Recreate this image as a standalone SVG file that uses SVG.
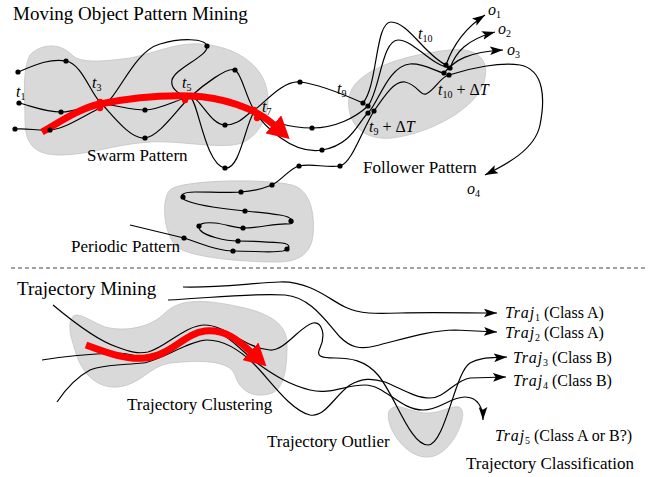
<svg xmlns="http://www.w3.org/2000/svg" width="657" height="477" viewBox="0 0 657 477">
<style>
.blob{fill:#d9d9d9;stroke:#c4c4c4;stroke-width:0.8}
.ln{fill:none;stroke:#000;stroke-width:1.2}
.red{fill:none;stroke:#ff0000;stroke-width:7}
.lbl{font-family:"Liberation Serif",serif;font-size:17px;fill:#000}
.ttl{font-family:"Liberation Serif",serif;font-size:19px;fill:#000}
.m{font-family:"Liberation Serif",serif;font-style:italic;font-size:16px;fill:#000}
.tr{font-family:"Liberation Serif",serif;font-size:16px;fill:#000}
.it{font-style:italic;letter-spacing:0.8px}
.sb{font-size:10px;font-style:normal;letter-spacing:0}
.dot{fill:#000}
.rdot{fill:#ff0000}
</style>
<defs>
<marker id="ah" markerUnits="userSpaceOnUse" markerWidth="13" markerHeight="9" refX="12" refY="4" orient="auto" viewBox="0 0 12 8"><path d="M0,0 L12,4 L0,8 L2.5,4 Z" fill="#000"/></marker>
<marker id="rh" markerUnits="userSpaceOnUse" markerWidth="22" markerHeight="24" refX="1" refY="12" orient="auto" viewBox="0 0 22 24"><path d="M0,0 L22,12 L0,24 Z" fill="#ff0000"/></marker>
</defs>
<rect width="657" height="477" fill="#fff"/>

<g id="swarm-region">
<path class="blob" d="M30,55 C40,44 60,42 72,55 C80,63 100,62 130,58 C160,52 180,40 210,45 C240,50 262,66 267,90 C272,115 258,136 242,143 C220,150 180,140 150,142 C115,144 90,155 60,155 C35,155 25,145 25,120 C25,95 22,70 30,55 Z"/>
<text class="lbl" x="87" y="161">Swarm Pattern</text>
</g>
<g id="follower-region">
<path class="blob" d="M349,98 C352,72 400,55 450,50 C480,47 490,62 484,82 C476,108 432,133 392,138 C362,141 346,122 349,98 Z"/>
<text class="lbl" x="363" y="173">Follower Pattern</text>
</g>
<g id="periodic-region">
<path class="blob" d="M170,190 C180,180 262,178 292,185 C311,190 315,215 313,235 C311,255 297,262 277,262 C250,262 200,259 180,249 C164,240 160,200 170,190 Z"/>
<text class="lbl" x="71" y="252">Periodic Pattern</text>
</g>
<g id="cluster-region">
<path class="blob" d="M72,318 C76,310 88,320 105,327 C125,332 150,328 165,313 C178,300 200,298 240,307 C270,313 288,325 287,345 C287,365 285,388 272,393 C255,399 240,392 235,375 C230,360 200,360 170,363 C150,366 140,385 118,387 C95,389 80,370 75,350 C70,335 68,325 72,318 Z"/>
<text class="lbl" x="127" y="410">Trajectory Clustering</text>
</g>
<g id="outlier-region">
<path class="blob" d="M392,408 C398,403 410,412 425,413 C440,414 452,405 459,407 C466,410 462,425 455,437 C447,450 437,458 425,457 C410,456 395,440 390,425 C387,415 388,410 392,408 Z"/>
<text class="lbl" x="267" y="447">Trajectory Outlier</text>
</g>

<g id="titles">
<text class="ttl" x="13" y="20">Moving Object Pattern Mining</text>
<text class="ttl" x="17" y="295">Trajectory Mining</text>
<text class="lbl" x="466" y="469">Trajectory Classification</text>
</g>

<line x1="11" y1="268" x2="646" y2="268" stroke="#444" stroke-width="1" stroke-dasharray="4,3"/>

<g id="connectors">
<path class="ln" marker-end="url(#ah)" d="M18,72 C35,65 50,58 66,61 S90,92 100,102 S130,140 145,138 S178,108 190,97 S228,66 235,70 S245,95 254,110 S292,155 322,150 S358,122 368,113 C378,104 388,66 410,64 C425,63 436,72 444,73 C455,60 468,52 503,50"/>
<path class="ln" marker-end="url(#ah)" d="M19,103 C32,106 45,112 61,112 S88,104 100,104 S130,110 145,110 S180,98 190,97 S210,125 225,125 S245,115 254,110 S282,80 300,82 S345,95 363,103 C378,85 375,22 391,22 C408,22 425,55 446,65 C452,48 462,30 485,15"/>
<path class="ln" marker-end="url(#ah)" d="M15,129 C28,128 38,131 50,130 C65,129 85,115 100,108 C118,100 132,52 160,44 C180,38 205,38 207,46 C209,56 175,68 172,80 C170,90 182,96 190,97 C198,100 205,165 225,168 C240,170 245,125 254,112 C262,120 290,128 312,128 C335,128 355,118 368,106 C380,90 382,40 398,40 C414,40 430,65 450,68 C456,52 466,40 495,32"/>
<path class="ln" marker-end="url(#ah)" d="M130,225 L184,238 C198,242 215,251 233,251 C255,251 272,253 283,251 C291,249 291,244 282,243 C268,242 250,241 238,241 C225,241 205,236 200,230 C196,224 203,222 215,223 C225,224 235,228 243,228 C258,228 278,223 288,224 C297,224 293,217 280,215 C268,213 256,212 245,211 C225,209 195,205 185,200 C178,196 182,192 195,192 C210,192 228,193 241,192 C255,191 262,189 272,185 C282,180 290,168 299,166 C312,163 325,168 340,166 C352,163 362,130 374,111 C385,95 395,80 405,82 C418,85 420,96 426,94 C435,90 440,77 449,75 C470,68 500,62 520,65 C545,70 545,100 540,125 C535,150 505,165 485,175"/>

<path class="ln" marker-end="url(#ah)" d="M183,287 C220,288 250,283 280,282 C310,281 330,300 345,307 C360,314 375,314 400,313 C430,312 470,313 497,313"/>
<path class="ln" marker-end="url(#ah)" d="M168,300 C210,298 250,293 285,295 C310,297 325,320 340,337 C350,347 360,350 375,346 C400,340 430,330 455,330 L497,332"/>
<path class="ln" marker-end="url(#ah)" d="M53,305 C65,315 95,340 117,347 C130,352 138,354 148,352 C165,348 185,325 205,325 C225,325 245,348 270,350 C285,351 300,326 313,323 C322,321 326,335 320,348 C316,356 320,358 335,358 C350,358 365,360 378,375 C395,395 410,445 428,445 C445,445 455,372 470,363 C480,357 492,358 507,357"/>
<path class="ln" marker-end="url(#ah)" d="M42,360 C60,357 90,354 117,353 C130,353 138,358 148,357 C165,355 190,330 207,330 C225,330 240,350 257,363 C275,376 290,385 310,390 C330,395 345,385 365,385 C385,385 400,410 423,410 C440,410 450,397 465,397 C478,397 483,408 483,420"/>
<path class="ln" marker-end="url(#ah)" d="M57,402 C65,390 75,378 90,370 C105,364 125,365 143,363 C160,361 190,340 207,340 C225,340 240,350 255,365 C270,380 290,410 310,415 C325,418 335,395 350,385 C362,378 372,378 385,382 C400,388 415,398 430,398 C445,398 455,380 470,378 L506,377"/>

<path class="red" marker-end="url(#rh)" d="M42,132 C60,122 80,108 100,104 C130,98 160,95 190,96 C222,97 255,108 274,125"/>
<path class="red" marker-end="url(#rh)" d="M86,345 C105,352 125,360 145,358 C170,356 185,333 205,331 C225,329 238,340 251,352"/>
</g>

<g id="dots">
<circle class="dot" cx="18" cy="72" r="2.6"/><circle class="dot" cx="66" cy="61" r="2.6"/>
<circle class="dot" cx="19" cy="103" r="2.6"/><circle class="dot" cx="61" cy="112" r="2.6"/>
<circle class="dot" cx="15" cy="129" r="2.6"/><circle class="dot" cx="50" cy="130" r="2.6"/>
<circle class="dot" cx="145" cy="110" r="2.6"/><circle class="dot" cx="145" cy="138" r="2.6"/>
<circle class="dot" cx="207" cy="46" r="2.6"/><circle class="dot" cx="235" cy="70" r="2.6"/>
<circle class="dot" cx="225" cy="125" r="2.6"/><circle class="dot" cx="225" cy="168" r="2.6"/>
<circle class="dot" cx="300" cy="82" r="2.6"/><circle class="dot" cx="312" cy="128" r="2.6"/>
<circle class="dot" cx="322" cy="150" r="2.6"/>
<circle class="dot" cx="184" cy="238" r="2.6"/><circle class="dot" cx="233" cy="251" r="2.6"/>
<circle class="dot" cx="287" cy="249" r="2.6"/><circle class="dot" cx="238" cy="241" r="2.6"/>
<circle class="dot" cx="199" cy="226" r="2.6"/><circle class="dot" cx="243" cy="228" r="2.6"/>
<circle class="dot" cx="291" cy="221" r="2.6"/><circle class="dot" cx="245" cy="211" r="2.6"/>
<circle class="dot" cx="183" cy="197" r="2.6"/><circle class="dot" cx="241" cy="192" r="2.6"/>
<circle class="dot" cx="272" cy="185" r="2.6"/><circle class="dot" cx="299" cy="166" r="2.6"/>
<circle class="dot" cx="340" cy="166" r="2.6"/>
<circle class="dot" cx="363" cy="103" r="2.6"/><circle class="dot" cx="368" cy="106" r="2.6"/>
<circle class="dot" cx="368" cy="113" r="2.6"/><circle class="dot" cx="374" cy="111" r="2.6"/>
<circle class="dot" cx="446" cy="65" r="2.6"/><circle class="dot" cx="450" cy="68" r="2.6"/>
<circle class="dot" cx="444" cy="73" r="2.6"/><circle class="dot" cx="449" cy="75" r="2.6"/>
<circle class="rdot" cx="100" cy="102" r="3.2"/><circle class="rdot" cx="100" cy="108" r="3.2"/>
<circle class="rdot" cx="191" cy="96" r="3.2"/><circle class="rdot" cx="185" cy="100" r="3.2"/>
<circle class="rdot" cx="254" cy="110" r="3.2"/><circle class="rdot" cx="257" cy="118" r="3.2"/>
</g>

<g id="time-labels">
<text class="m" x="16" y="97">t<tspan class="sb" dy="3">1</tspan></text>
<text class="m" x="92" y="88">t<tspan class="sb" dy="3">3</tspan></text>
<text class="m" x="182" y="88">t<tspan class="sb" dy="3">5</tspan></text>
<text class="m" x="262" y="112">t<tspan class="sb" dy="3">7</tspan></text>
<text class="m" x="337" y="94">t<tspan class="sb" dy="3">9</tspan></text>
<text class="m" x="369" y="132">t<tspan class="sb" dy="3">9</tspan><tspan dy="-3" font-style="normal"> + Δ</tspan>T</text>
<text class="m" x="418" y="39">t<tspan class="sb" dy="3">10</tspan></text>
<text class="m" x="438" y="95">t<tspan class="sb" dy="3">10</tspan><tspan dy="-3" font-style="normal"> + Δ</tspan>T</text>
<text class="m" x="488" y="15">o<tspan class="sb" dy="3">1</tspan></text>
<text class="m" x="498" y="34">o<tspan class="sb" dy="3">2</tspan></text>
<text class="m" x="507" y="55">o<tspan class="sb" dy="3">3</tspan></text>
<text class="m" x="467" y="194">o<tspan class="sb" dy="3">4</tspan></text>
</g>

<g id="traj-labels">
<text class="tr" x="505" y="318"><tspan class="it">Traj</tspan><tspan class="sb" dy="3">1</tspan><tspan dy="-3"> (Class A)</tspan></text>
<text class="tr" x="505" y="338"><tspan class="it">Traj</tspan><tspan class="sb" dy="3">2</tspan><tspan dy="-3"> (Class A)</tspan></text>
<text class="tr" x="513" y="363"><tspan class="it">Traj</tspan><tspan class="sb" dy="3">3</tspan><tspan dy="-3"> (Class B)</tspan></text>
<text class="tr" x="513" y="386"><tspan class="it">Traj</tspan><tspan class="sb" dy="3">4</tspan><tspan dy="-3"> (Class B)</tspan></text>
<text class="tr" x="495" y="441"><tspan class="it">Traj</tspan><tspan class="sb" dy="3">5</tspan><tspan dy="-3"> (Class A or B?)</tspan></text>
</g>
</svg>
